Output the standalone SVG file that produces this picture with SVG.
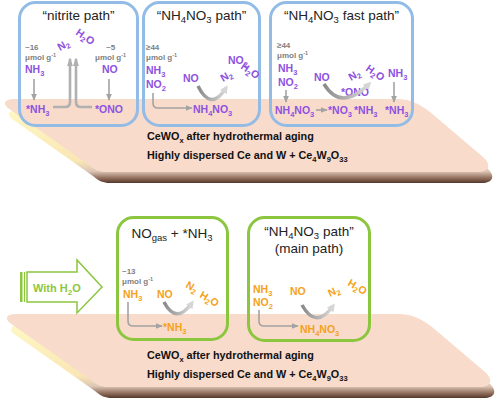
<svg xmlns="http://www.w3.org/2000/svg" width="500" height="401" viewBox="0 0 500 401">
<style>
text{font-family:"Liberation Sans",Arial,sans-serif}
.ti{font-size:13.5px;fill:#222}
.g{font-size:8px;font-weight:bold;fill:#7f7f7f}
.p{font-size:10.5px;font-weight:bold;fill:#8e52e0}
.o{font-size:10.5px;font-weight:bold;fill:#f5a11c}
.sl{font-size:10.8px;font-weight:bold;fill:#111}
.bb{fill:none;stroke:#92bce6;stroke-width:3}
.bg{fill:none;stroke:#8cc63f;stroke-width:3}
.ar{fill:none;stroke:#a3a3a3;stroke-width:1.6}
.ar2{fill:none;stroke:#b0b0b0;stroke-width:2.6}
.cv{fill:none;stroke:url(#cg);stroke-width:3.5}
.face{fill:#f8dbcb}
.thk{fill:url(#tg)}
</style>
<defs>
<linearGradient id="tg" x1="0" y1="0" x2="0" y2="1">
<stop offset="0" stop-color="#fff8c4"/>
<stop offset="0.7" stop-color="#f9e6b4"/>
<stop offset="0.84" stop-color="#dcc6b6"/>
<stop offset="0.92" stop-color="#9c7a68"/>
<stop offset="1" stop-color="#55372a"/>
</linearGradient>
<linearGradient id="cg" x1="0" y1="0" x2="1" y2="0">
<stop offset="0" stop-color="#8a8a8a"/>
<stop offset="1" stop-color="#dadada"/>
</linearGradient>
<marker id="ah" viewBox="0 0 10 10" refX="9" refY="5" markerUnits="userSpaceOnUse" markerWidth="7" markerHeight="6" orient="auto" preserveAspectRatio="none"><path d="M0,0 L10,5 L0,10 z" fill="#a3a3a3"/></marker>
<marker id="ah2" viewBox="0 0 10 10" refX="8" refY="5" markerUnits="userSpaceOnUse" markerWidth="9" markerHeight="6" orient="auto" preserveAspectRatio="none"><path d="M0,0 L10,5 L0,10 z" fill="#b0b0b0"/></marker>
<marker id="ahc" viewBox="0 0 10 10" refX="6" refY="5" markerUnits="userSpaceOnUse" markerWidth="8" markerHeight="8" orient="auto" preserveAspectRatio="none"><path d="M0,0 L10,5 L0,10 z" fill="#d6d6d6"/></marker>
<path id="slab" d="M 14,99 L 396,99 C 410,99 418,103 430,112 L 483,157 C 492,165 489,172 478,172 L 106,172 C 99,172 95,170 89,165 L 8,108 C 2,103 5,99 14,99 Z"/>
</defs>

<g id="slab-top">
<use href="#slab" class="thk" transform="translate(4,11)"/>
<use href="#slab" class="face"/>
<text class="sl" x="147" y="140">CeWO<tspan dy="2.5" font-size="7.5">x</tspan><tspan dy="-2.5"> after hydrothermal aging</tspan></text>
<text class="sl" x="147" y="159">Highly dispersed Ce and W + Ce<tspan dy="2.5" font-size="7.5">4</tspan><tspan dy="-2.5">W</tspan><tspan dy="2.5" font-size="7.5">9</tspan><tspan dy="-2.5">O</tspan><tspan dy="2.5" font-size="7.5">33</tspan></text>
</g>

<g id="slab-bottom">
<g transform="translate(2,215)">
<use href="#slab" class="thk" transform="translate(4,11)"/>
<use href="#slab" class="face"/>
</g>
<text class="sl" x="147" y="359">CeWO<tspan dy="2.5" font-size="7.5">x</tspan><tspan dy="-2.5"> after hydrothermal aging</tspan></text>
<text class="sl" x="147" y="378">Highly dispersed Ce and W + Ce<tspan dy="2.5" font-size="7.5">4</tspan><tspan dy="-2.5">W</tspan><tspan dy="2.5" font-size="7.5">9</tspan><tspan dy="-2.5">O</tspan><tspan dy="2.5" font-size="7.5">33</tspan></text>
</g>

<g id="box-nitrite">
<rect class="bb" x="19.5" y="2.5" width="118" height="123" rx="16"/>
<text class="ti" x="78.5" y="20" text-anchor="middle">“nitrite path”</text>
<text class="g" x="25" y="50">~16</text>
<text class="g" x="25" y="60">μmol g<tspan dy="-3" font-size="5.5">-1</tspan></text>
<text class="p" x="25" y="73">NH<tspan dy="2.5" font-size="7.5">3</tspan></text>
<text class="p" x="26" y="113">*NH<tspan dy="2.5" font-size="7.5">3</tspan></text>
<text class="g" x="106" y="50">~5</text>
<text class="g" x="95" y="60">μmol g<tspan dy="-3" font-size="5.5">-1</tspan></text>
<text class="p" x="102" y="73">NO</text>
<text class="p" x="95" y="113">*ONO</text>
<text class="p" transform="translate(60,51) rotate(-30)">N<tspan dy="2.5" font-size="7.5">2</tspan></text>
<text class="p" transform="translate(75,34) rotate(35)">H<tspan dy="2.5" font-size="7.5">2</tspan><tspan dy="-2.5">O</tspan></text>
</g>

<g id="box-nh4no3">
<rect class="bb" x="143.5" y="2.5" width="116" height="123" rx="16"/>
<text class="ti" x="201.5" y="20" text-anchor="middle">“NH<tspan dy="2.5" font-size="9.5">4</tspan><tspan dy="-2.5">NO</tspan><tspan dy="2.5" font-size="9.5">3</tspan><tspan dy="-2.5"> path”</tspan></text>
<text class="g" x="146" y="50">≥44</text>
<text class="g" x="146" y="60">μmol g<tspan dy="-3" font-size="5.5">-1</tspan></text>
<text class="p" x="146" y="74">NH<tspan dy="2.5" font-size="7.5">3</tspan></text>
<text class="p" x="146" y="88">NO<tspan dy="2.5" font-size="7.5">2</tspan></text>
<text class="p" x="183" y="82">NO</text>
<text class="p" x="228" y="64">NO<tspan dy="2.5" font-size="7.5">2</tspan></text>
<text class="p" transform="translate(223,82) rotate(-30)">N<tspan dy="2.5" font-size="7.5">2</tspan></text>
<text class="p" transform="translate(240,68) rotate(35)">H<tspan dy="2.5" font-size="7.5">2</tspan><tspan dy="-2.5">O</tspan></text>
<text class="p" x="193" y="113">NH<tspan dy="2.5" font-size="7.5">4</tspan><tspan dy="-2.5">NO</tspan><tspan dy="2.5" font-size="7.5">3</tspan></text>
</g>

<g id="box-fast">
<rect class="bb" x="270.5" y="2.5" width="142" height="123" rx="16"/>
<text class="ti" x="341.5" y="20" text-anchor="middle">“NH<tspan dy="2.5" font-size="9.5">4</tspan><tspan dy="-2.5">NO</tspan><tspan dy="2.5" font-size="9.5">3</tspan><tspan dy="-2.5"> fast path”</tspan></text>
<text class="g" x="277" y="48">≥44</text>
<text class="g" x="277" y="58">μmol g<tspan dy="-3" font-size="5.5">-1</tspan></text>
<text class="p" x="278" y="72">NH<tspan dy="2.5" font-size="7.5">3</tspan></text>
<text class="p" x="278" y="86">NO<tspan dy="2.5" font-size="7.5">2</tspan></text>
<text class="p" x="314" y="81">NO</text>
<text class="p" transform="translate(351,81) rotate(-30)">N<tspan dy="2.5" font-size="7.5">2</tspan></text>
<text class="p" transform="translate(365,70) rotate(35)">H<tspan dy="2.5" font-size="7.5">2</tspan><tspan dy="-2.5">O</tspan></text>
<text class="p" x="388" y="77">NH<tspan dy="2.5" font-size="7.5">3</tspan></text>
<text class="p" x="341" y="96" font-size="6.5">*ONO</text>
<text class="p" x="275" y="114">NH<tspan dy="2.5" font-size="7.5">4</tspan><tspan dy="-2.5">NO</tspan><tspan dy="2.5" font-size="7.5">3</tspan></text>
<text class="p" x="328" y="114">*NO<tspan dy="2.5" font-size="7.5">3</tspan></text>
<text class="p" x="354" y="114">*NH<tspan dy="2.5" font-size="7.5">3</tspan></text>
<text class="p" x="385" y="114">*NH<tspan dy="2.5" font-size="7.5">3</tspan></text>
</g>

<g id="with-h2o">
<rect x="20" y="272" width="2.5" height="30" fill="#8cc63f"/>
<line x1="24.5" y1="272" x2="24.5" y2="302" stroke="#8cc63f" stroke-width="1.2"/>
<polygon points="27,272 77,272 77,260 102,287 77,313 77,302 27,302" fill="#fff" stroke="#8cc63f" stroke-width="1.5"/>
<text x="33" y="292" font-size="11" font-weight="bold" fill="#8cc63f">With H<tspan dy="2.5" font-size="8">2</tspan><tspan dy="-2.5">O</tspan></text>
</g>

<g id="box-nogas">
<rect class="bg" x="117.5" y="217.5" width="110" height="122" rx="16"/>
<text class="ti" x="172" y="238" text-anchor="middle">NO<tspan dy="2.5" font-size="9.5">gas</tspan><tspan dy="-2.5"> + *NH</tspan><tspan dy="2.5" font-size="9.5">3</tspan></text>
<text class="g" x="122" y="274">~13</text>
<text class="g" x="122" y="284">μmol g<tspan dy="-3" font-size="5.5">-1</tspan></text>
<text class="o" x="123" y="298">NH<tspan dy="2.5" font-size="7.5">3</tspan></text>
<text class="o" x="157" y="298">NO</text>
<text class="o" transform="translate(185,287) rotate(30)">N<tspan dy="2.5" font-size="7.5">2</tspan></text>
<text class="o" transform="translate(199,297) rotate(30)">H<tspan dy="2.5" font-size="7.5">2</tspan><tspan dy="-2.5">O</tspan></text>
<text class="o" x="163" y="331">*NH<tspan dy="2.5" font-size="7.5">3</tspan></text>
</g>

<g id="box-main">
<rect class="bg" x="248.5" y="217.5" width="121" height="123" rx="16"/>
<text class="ti" x="309" y="236" text-anchor="middle">“NH<tspan dy="2.5" font-size="9.5">4</tspan><tspan dy="-2.5">NO</tspan><tspan dy="2.5" font-size="9.5">3</tspan><tspan dy="-2.5"> path”</tspan></text>
<text class="ti" x="309" y="253" text-anchor="middle">(main path)</text>
<text class="o" x="253" y="293">NH<tspan dy="2.5" font-size="7.5">3</tspan></text>
<text class="o" x="253" y="306">NO<tspan dy="2.5" font-size="7.5">2</tspan></text>
<text class="o" x="290" y="295">NO</text>
<text class="o" transform="translate(330,297) rotate(-25)">N<tspan dy="2.5" font-size="7.5">2</tspan></text>
<text class="o" transform="translate(347,285) rotate(30)">H<tspan dy="2.5" font-size="7.5">2</tspan><tspan dy="-2.5">O</tspan></text>
<text class="o" x="300" y="333">NH<tspan dy="2.5" font-size="7.5">4</tspan><tspan dy="-2.5">NO</tspan><tspan dy="2.5" font-size="7.5">3</tspan></text>
</g>

<g id="connectors">
<path class="ar2" d="M 53,107 L 65,107 Q 70,107 70,102 L 70,59" marker-end="url(#ah2)"/>
<path class="ar2" d="M 92,107 L 81,107 Q 76,107 76,102 L 76,59" marker-end="url(#ah2)"/>
<path class="ar" d="M 34,79 L 34,100" marker-end="url(#ah)"/>
<path class="ar" d="M 109,79 L 109,100" marker-end="url(#ah)"/>
<path class="ar" d="M 153,93 L 153,103 Q 153,108 158,108 L 192,108" marker-end="url(#ah)"/>
<path class="cv" d="M 198,86 Q 211,112 226,88" marker-end="url(#ahc)"/>
<path class="ar" d="M 286,90 L 286,102" marker-end="url(#ah)"/>
<path class="ar" d="M 316,110 L 327,110" marker-end="url(#ah)"/>
<path class="cv" d="M 324,84 Q 341,112 369,84" marker-end="url(#ahc)"/>
<path class="ar" d="M 394,82 L 394,102" marker-end="url(#ah)"/>
<path class="ar" d="M 128,302 L 128,321 Q 128,326 133,326 L 162,326" marker-end="url(#ah)"/>
<path class="cv" d="M 164,302 Q 176,325 192,303" marker-end="url(#ahc)"/>
<path class="ar" d="M 259,310 L 259,321 Q 259,326 264,326 L 298,326" marker-end="url(#ah)"/>
<path class="cv" d="M 302,305 Q 316,330 333,306" marker-end="url(#ahc)"/>
</g>
</svg>
